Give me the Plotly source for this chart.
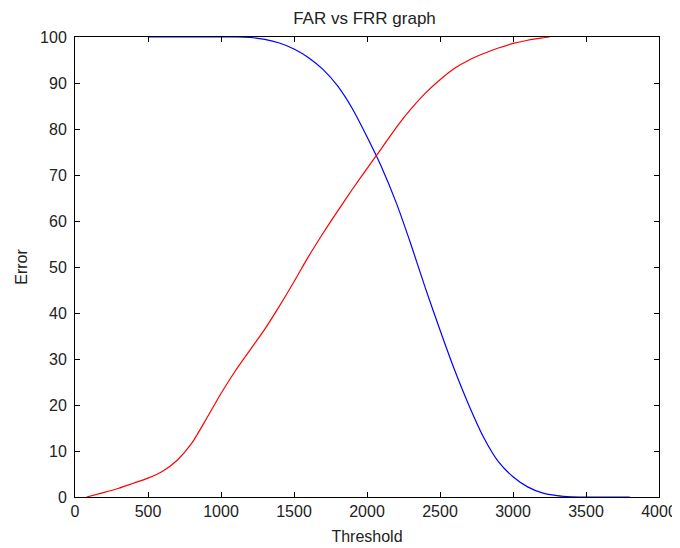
import plotly.graph_objects as go

# FAR (red) curve
far_threshold = [80, 200, 300, 400, 500, 600, 700, 800, 900, 1000, 1100, 1200, 1300, 1400,
                 1500, 1600, 1700, 1800, 1900, 2000, 2100, 2200, 2300, 2400, 2500, 2600,
                 2700, 2800, 2900, 3000, 3100, 3200, 3250]
far_error = [0, 1.0, 1.9, 3.0, 4.1, 5.6, 8.0, 11.7, 17.0, 22.5, 27.5, 32.0, 36.5, 41.5,
             46.8, 52.3, 57.4, 62.2, 66.9, 71.4, 75.8, 80.3, 84.3, 87.8, 90.7, 93.2,
             95.0, 96.4, 97.6, 98.6, 99.3, 99.8, 100]

# FRR (blue) curve
frr_threshold = [500, 600, 700, 800, 900, 1000, 1100, 1200, 1300, 1400, 1500, 1600, 1700,
                 1800, 1900, 2000, 2100, 2200, 2300, 2400, 2500, 2600, 2700, 2800, 2900,
                 3000, 3100, 3200, 3300, 3400, 3500, 3600, 3700, 3800]
frr_error = [100, 100, 100, 100, 100, 100, 100, 99.9, 99.5, 98.7, 97.4, 95.5, 92.9,
             89.3, 84.4, 78.3, 71.7, 64.0, 55.0, 45.4, 36.3, 27.6, 19.8, 12.9, 7.7,
             4.4, 2.2, 0.9, 0.3, 0.05, 0, 0, 0, 0]

x_ticks = [0, 500, 1000, 1500, 2000, 2500, 3000, 3500, 4000]
y_ticks = [0, 10, 20, 30, 40, 50, 60, 70, 80, 90, 100]

FONT = "Liberation Sans, Arial, sans-serif"

fig = go.Figure()
fig.add_trace(go.Scatter(x=frr_threshold, y=frr_error, mode="lines",
                         line=dict(color="#0000ff", width=1.2, shape="spline", smoothing=0.7),
                         showlegend=False))
fig.add_trace(go.Scatter(x=far_threshold, y=far_error, mode="lines",
                         line=dict(color="#ff0000", width=1.2, shape="spline", smoothing=0.7),
                         showlegend=False))

axis_common = dict(showline=True, linecolor="black", linewidth=1, mirror="ticks",
                   ticks="inside", ticklen=5, tickcolor="black", tickwidth=1,
                   showgrid=False, zeroline=False, automargin=False,
                   tickfont=dict(family=FONT, size=16, color="#222222"))

fig.update_xaxes(range=[0, 4000], tickvals=x_ticks, ticktext=[str(v) for v in x_ticks],
                 title=dict(text="Threshold", font=dict(family=FONT, size=16, color="#222222"),
                            standoff=11),
                 **axis_common)
fig.update_yaxes(range=[0, 100], tickvals=y_ticks, ticktext=[str(v) for v in y_ticks],
                 ticklabelstandoff=4,
                 title=dict(text="Error", font=dict(family=FONT, size=16, color="#222222"),
                            standoff=8),
                 **axis_common)

# The page body adds an 8px offset, so the figure is 8px smaller on each side
fig.update_layout(
    width=672, height=540,
    margin=dict(l=67, r=21, t=29, b=51),
    paper_bgcolor="white", plot_bgcolor="white",
    title=dict(text="FAR vs FRR graph", x=0.5305, xanchor="center", y=0.9815, yanchor="middle",
               font=dict(family=FONT, size=17, color="#222222")),
)

fig.write_html("out.html")
